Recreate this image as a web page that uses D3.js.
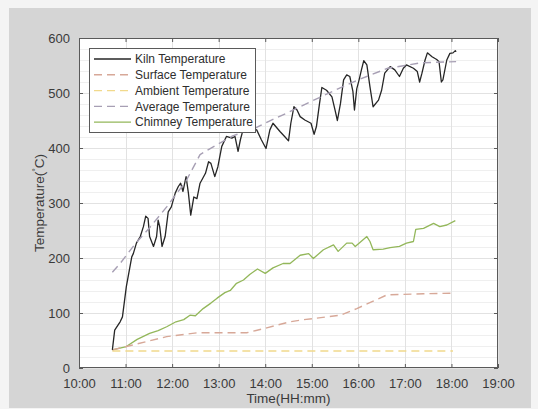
<!DOCTYPE html>
<html>
<head>
<meta charset="utf-8">
<script src="https://cdn.jsdelivr.net/npm/d3@7"></script>
<style>
  html, body { margin: 0; padding: 0; background: #f4f4f4; }
  svg { display: block; font-family: "Liberation Sans", Arial, sans-serif; }
</style>
</head>
<body>
<svg width="538" height="409"></svg>
<script>
// series data (time as HH:MM, temperature in deg C)
var kilnTime = ['10:43','10:46','10:53','10:56','11:01','11:08','11:10','11:14','11:19','11:23','11:26','11:29','11:31','11:36','11:40','11:42','11:44','11:47','11:51','11:55','11:59','12:04','12:08','12:11','12:14','12:18','12:21','12:24','12:28','12:32','12:36','12:43','12:47','12:50','12:55','12:59','13:04','13:10','13:17','13:21','13:25','13:28','13:32','13:40','13:49','13:55','14:01','14:06','14:10','14:19','14:25','14:30','14:33','14:37','14:41','14:45','14:51','14:59','15:03','15:06','15:10','15:13','15:19','15:26','15:30','15:33','15:37','15:41','15:45','15:49','15:53','15:55','15:58','16:01','16:04','16:07','16:11','16:15','16:19','16:26','16:30','16:34','16:41','16:47','16:53','16:58','17:02','17:11','17:16','17:19','17:22','17:26','17:29','17:35','17:41','17:44','17:47','17:49','17:54','17:58','18:02','18:05','18:06'];
var kilnTemp = [33,69,84,93,148,202,208,227,239,257,276,272,239,221,239,269,257,221,239,284,293,318,330,336,321,348,318,278,311,308,336,354,375,372,348,366,403,421,418,421,394,415,436,436,433,415,399,433,445,430,421,413,445,475,469,457,451,445,425,439,481,510,505,493,469,450,481,524,533,530,503,469,508,524,542,559,551,511,475,487,505,536,548,542,530,545,551,545,539,520,536,560,573,566,561,557,520,524,560,572,573,577,575];

var surfaceTime = ['10:43','11:01','11:53','12:32','13:36','14:02','14:32','14:45','15:37','15:58','16:37','17:24','18:05'];
var surfaceTemp = [33,39,57,64,64,73,84,87,96,108,133,135,136];

var ambientTime = ['10:43','14:00','18:02'];
var ambientTemp = [31,31,31];

var averageTime = ['10:43','10:53','11:12','11:31','11:53','12:18','12:36','12:48','13:18','13:47','14:04','14:30','14:58','15:30','16:00','16:38','17:00','17:21','18:06'];
var averageTemp = [174,190,225,255,293,340,388,398,422,436,448,465,484,505,524,545,550,555,557];

var chimneyTime = ['10:43','11:01','11:15','11:31','11:42','11:53','12:05','12:15','12:23','12:30','12:40','12:50','12:58','13:08','13:15','13:23','13:32','13:40','13:50','14:00','14:10','14:23','14:32','14:45','14:56','15:02','15:15','15:28','15:34','15:45','15:52','15:56','16:11','16:15','16:19','16:32','16:41','16:53','17:02','17:11','17:14','17:24','17:37','17:45','17:54','18:05'];
var chimneyTemp = [33,39,52,63,68,75,84,88,96,95,108,118,127,137,141,154,160,170,180,172,182,190,190,205,208,199,215,224,212,227,227,221,239,230,215,216,219,221,227,230,252,254,263,257,260,268];

var seriesNames = ['Kiln Temperature','Surface Temperature','Ambient Temperature','Average Temperature','Chimney Temperature'];
var xTickLabels = ['10:00','11:00','12:00','13:00','14:00','15:00','16:00','17:00','18:00','19:00'];
var yTicks = [0,100,200,300,400,500,600];

var parseTime = d3.timeParse('%H:%M');

var svg = d3.select('svg');

// figure background
svg.append('rect')
    .attr('x', 9).attr('y', 8)
    .attr('width', 522).attr('height', 400)
    .attr('fill', '#d5d5d5');

var plotLeft = 79, plotTop = 38, plotRight = 498, plotBottom = 368;

var x = d3.scaleTime()
    .domain([parseTime('10:00'), parseTime('19:00')])
    .range([plotLeft, plotRight]);
var y = d3.scaleLinear()
    .domain([0, 600])
    .range([plotBottom, plotTop]);

svg.append('rect')
    .attr('x', plotLeft).attr('y', plotTop)
    .attr('width', plotRight - plotLeft).attr('height', plotBottom - plotTop)
    .attr('fill', '#ffffff');

// minor horizontal grid
svg.append('g')
    .selectAll('line')
    .data(d3.range(0, 601, 20).filter(function(d){ return d % 100 !== 0; }))
    .enter().append('line')
    .attr('x1', plotLeft).attr('x2', plotRight)
    .attr('y1', function(d){ return Math.round(y(d)) + 0.5; })
    .attr('y2', function(d){ return Math.round(y(d)) + 0.5; })
    .attr('stroke', '#efefef');

// major grid
var xTickVals = xTickLabels.map(parseTime);
svg.append('g')
    .selectAll('line')
    .data(xTickVals)
    .enter().append('line')
    .attr('x1', function(d){ return Math.round(x(d)) + 0.5; })
    .attr('x2', function(d){ return Math.round(x(d)) + 0.5; })
    .attr('y1', plotTop).attr('y2', plotBottom)
    .attr('stroke', '#e2e2e2');
svg.append('g')
    .selectAll('line')
    .data(yTicks)
    .enter().append('line')
    .attr('x1', plotLeft).attr('x2', plotRight)
    .attr('y1', function(d){ return Math.round(y(d)) + 0.5; })
    .attr('y2', function(d){ return Math.round(y(d)) + 0.5; })
    .attr('stroke', '#e2e2e2');

// lines
function makeSeries(times, temps) {
    return times.map(function(t, i){ return { t: parseTime(t), v: temps[i] }; });
}

var lineFunction = d3.line()
    .x(function(d){ return x(d.t); })
    .y(function(d){ return y(d.v); });

var styles = [
    { data: makeSeries(kilnTime, kilnTemp), color: '#262626', width: 1.3, dash: null },
    { data: makeSeries(surfaceTime, surfaceTemp), color: '#d7a898', width: 1.4, dash: '8,5' },
    { data: makeSeries(ambientTime, ambientTemp), color: '#f1d98c', width: 1.4, dash: '8,5' },
    { data: makeSeries(averageTime, averageTemp), color: '#a79fb4', width: 1.4, dash: '8,5' },
    { data: makeSeries(chimneyTime, chimneyTemp), color: '#93b75a', width: 1.3, dash: null }
];

// draw order: chimney/ambient/surface under, kiln and average on top
[4, 2, 1, 0, 3].forEach(function(i){
    var s = styles[i];
    svg.append('path')
        .datum(s.data)
        .attr('d', lineFunction)
        .attr('fill', 'none')
        .attr('stroke', s.color)
        .attr('stroke-width', s.width)
        .attr('stroke-dasharray', s.dash)
        .attr('stroke-linejoin', 'round');
});

// axes box
svg.append('rect')
    .attr('x', plotLeft + 0.5).attr('y', plotTop + 0.5)
    .attr('width', plotRight - plotLeft - 1).attr('height', plotBottom - plotTop - 1)
    .attr('fill', 'none')
    .attr('stroke', '#5a5a5a');

// axes with inward ticks
var xAxis = d3.axisBottom(x)
    .tickValues(xTickVals)
    .tickFormat(d3.timeFormat('%H:%M'))
    .tickSizeInner(-4).tickSizeOuter(0).tickPadding(11);
var gx = svg.append('g').attr('transform', 'translate(0,' + plotBottom + ')').call(xAxis);

var yAxis = d3.axisLeft(y)
    .tickValues(yTicks)
    .tickSizeInner(-4).tickSizeOuter(0).tickPadding(9);
var gy = svg.append('g').attr('transform', 'translate(' + plotLeft + ',0)').call(yAxis);

var gxTop = svg.append('g').attr('transform', 'translate(0,' + plotTop + ')')
    .call(d3.axisTop(x).tickValues(xTickVals).tickSizeInner(-4).tickSizeOuter(0).tickFormat(''));
var gyRight = svg.append('g').attr('transform', 'translate(' + plotRight + ',0)')
    .call(d3.axisRight(y).tickValues(yTicks).tickSizeInner(-4).tickSizeOuter(0).tickFormat(''));

[gx, gy, gxTop, gyRight].forEach(function(g){
    g.select('.domain').remove();
    g.selectAll('line').attr('stroke', '#5a5a5a');
    g.selectAll('text')
        .attr('fill', '#3a3a3a')
        .style('font-size', '13px')
        .style('font-family', '"Liberation Sans", Arial, sans-serif');
});

// axis labels
svg.append('text')
    .attr('x', (plotLeft + plotRight) / 2)
    .attr('y', 403)
    .attr('text-anchor', 'middle')
    .attr('fill', '#3a3a3a')
    .style('font-size', '13.5px')
    .text('Time(HH:mm)');

var yLabel = svg.append('text')
    .attr('transform', 'translate(44,' + ((plotTop + plotBottom) / 2) + ') rotate(-90)')
    .attr('text-anchor', 'middle')
    .attr('fill', '#3a3a3a')
    .style('font-size', '13.5px');
yLabel.append('tspan').text('Temperature(');
yLabel.append('tspan').attr('dy', -5).style('font-size', '9px').text('°');
yLabel.append('tspan').attr('dy', 5).text('C)');

// legend
var legend = svg.append('g');
legend.append('rect')
    .attr('x', 89.5).attr('y', 48.5)
    .attr('width', 166).attr('height', 84)
    .attr('fill', '#ffffff')
    .attr('stroke', '#5a5a5a');

var items = legend.selectAll('g.item')
    .data(styles)
    .enter().append('g')
    .attr('class', 'item')
    .attr('transform', function(d, i){ return 'translate(0,' + (59 + i * 15.8) + ')'; });

items.append('line')
    .attr('x1', 94).attr('x2', 131)
    .attr('y1', 0).attr('y2', 0)
    .attr('stroke', function(d){ return d.color; })
    .attr('stroke-width', function(d){ return d.width; })
    .attr('stroke-dasharray', function(d){ return d.dash; });

items.append('text')
    .attr('x', 135)
    .attr('y', 0)
    .attr('dy', '0.35em')
    .attr('fill', '#2e2e2e')
    .style('font-size', '12px')
    .text(function(d, i){ return seriesNames[i]; });
</script>
</body>
</html>
